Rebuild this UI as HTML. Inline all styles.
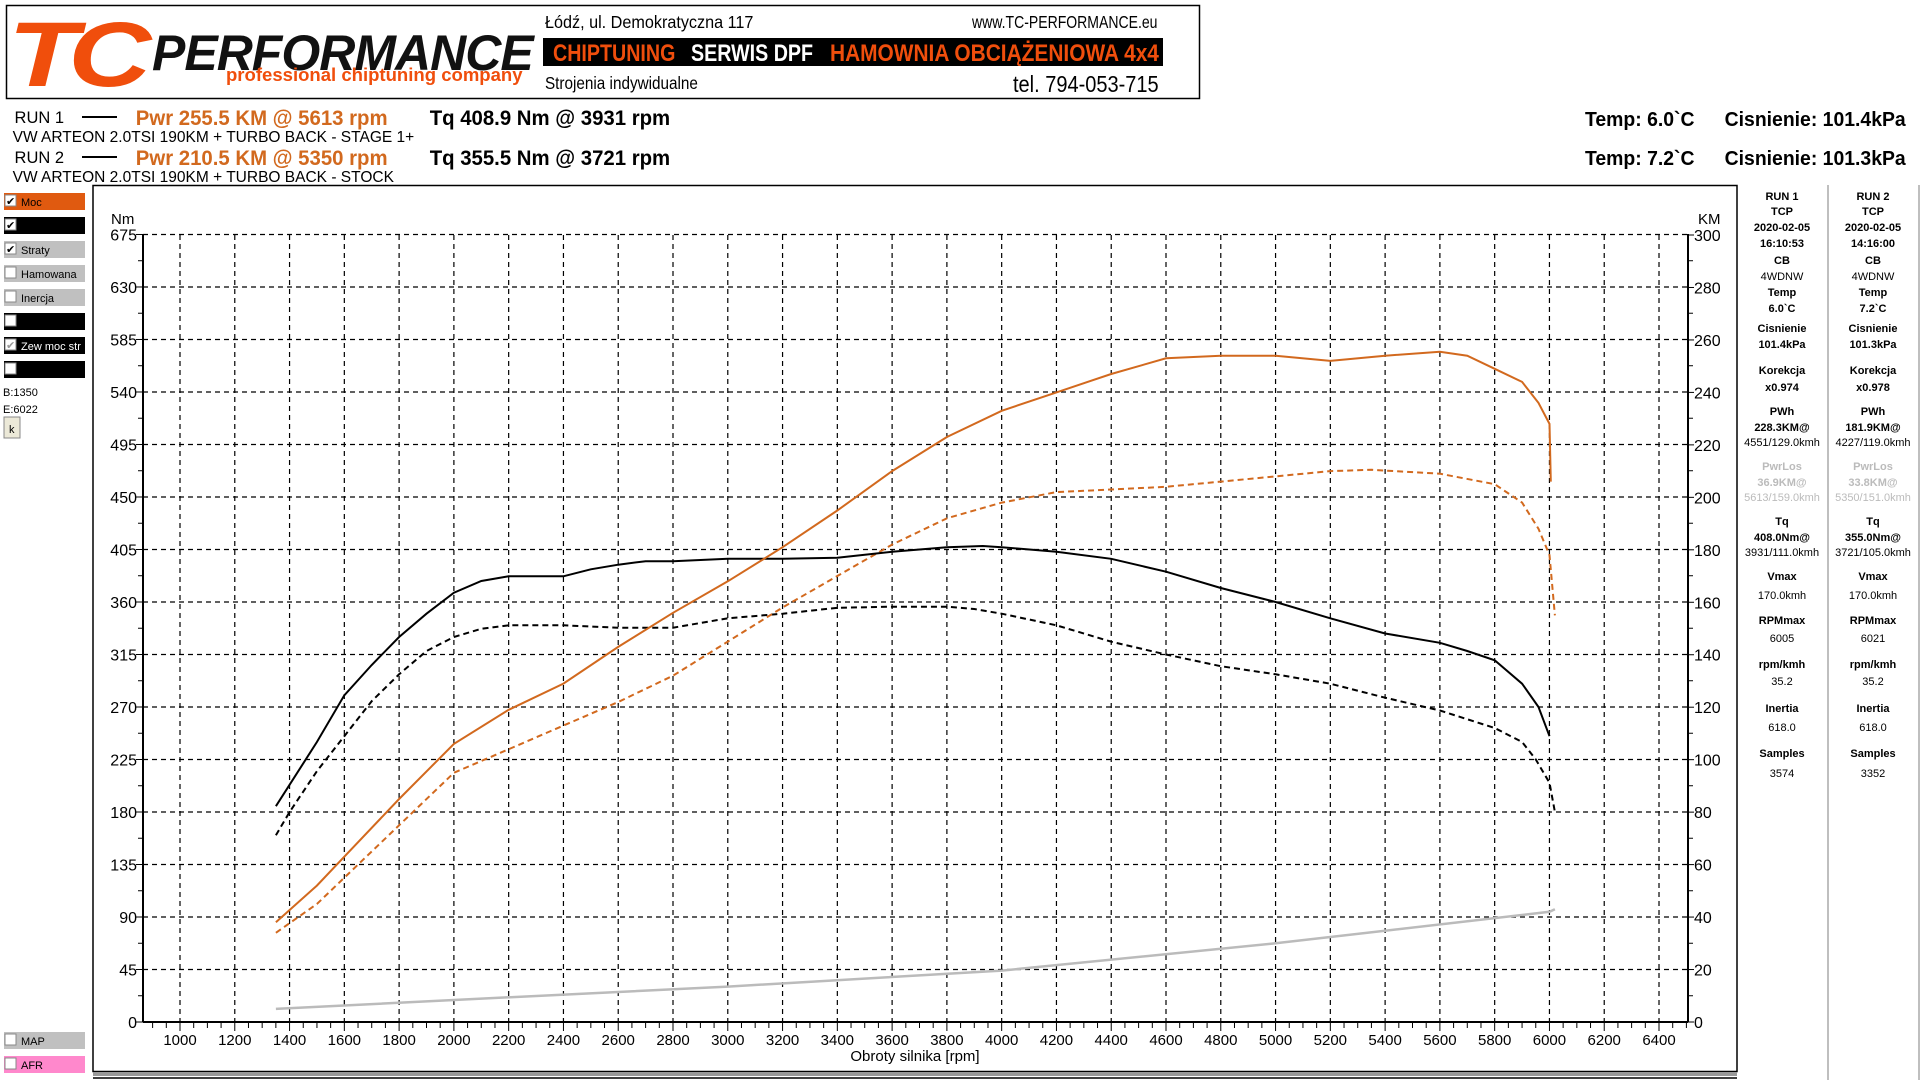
<!DOCTYPE html>
<html><head><meta charset="utf-8"><style>
html,body{margin:0;padding:0;background:#fff;width:1920px;height:1080px;overflow:hidden}
svg{display:block}
text{font-family:"Liberation Sans",sans-serif}
</style></head><body>
<svg id="s" width="1920" height="1080" xmlns="http://www.w3.org/2000/svg">
<!-- header box -->
<rect x="6.5" y="5.5" width="1193" height="93" fill="#fff" stroke="#000" stroke-width="1.5"/>
<text x="8" y="86" font-size="92" font-weight="bold" font-style="italic" fill="#f04e0c" transform="translate(8,0) scale(1.25,1) translate(-8,0)" letter-spacing="-8">TC</text>
<text x="152" y="70" font-size="50" font-weight="bold" font-style="italic" fill="#111" transform="translate(152,0) scale(1.0,1) translate(-152,0)" letter-spacing="-1">PERFORMANCE</text>
<text x="226" y="81" font-size="18" font-weight="bold" fill="#f04e0c" transform="translate(226,0) scale(1.03,1) translate(-226,0)">professional chiptuning company</text>
<text x="545" y="28" font-size="18" fill="#000" transform="translate(545,0) scale(0.9,1) translate(-545,0)">Łódź, ul. Demokratyczna 117</text>
<text x="972" y="28" font-size="18" fill="#000" transform="translate(972,0) scale(0.78,1) translate(-972,0)">www.TC-PERFORMANCE.eu</text>
<rect x="543" y="38" width="620" height="28" fill="#000"/>
<text x="553" y="61" font-size="24" font-weight="bold" fill="#f04e0c" transform="translate(553,0) scale(0.82,1) translate(-553,0)">CHIPTUNING</text>
<text x="691" y="61" font-size="24" font-weight="bold" fill="#fff" transform="translate(691,0) scale(0.82,1) translate(-691,0)">SERWIS DPF</text>
<text x="830" y="61" font-size="24" font-weight="bold" fill="#f04e0c" transform="translate(830,0) scale(0.87,1) translate(-830,0)">HAMOWNIA OBCIĄŻENIOWA 4x4</text>
<text x="545" y="89" font-size="18" fill="#000" transform="translate(545,0) scale(0.85,1) translate(-545,0)">Strojenia indywidualne</text>
<text x="1013" y="92" font-size="23" fill="#000" transform="translate(1013,0) scale(0.87,1) translate(-1013,0)">tel. 794-053-715</text>

<!-- run info -->
<g transform="scale(0.97,1)">
<text x="15" y="123" font-size="17" fill="#000">RUN 1</text>
<text x="15" y="163" font-size="17" fill="#000">RUN 2</text>
<text x="13" y="142" font-size="16" fill="#000">VW ARTEON 2.0TSI 190KM + TURBO BACK - STAGE 1+</text>
<text x="13" y="182" font-size="16" fill="#000">VW ARTEON 2.0TSI 190KM + TURBO BACK - STOCK</text>
<text x="140" y="125" font-size="21" font-weight="bold" fill="#d2691e">Pwr  255.5 KM @ 5613 rpm</text>
<text x="140" y="165" font-size="21" font-weight="bold" fill="#d2691e">Pwr  210.5 KM @ 5350 rpm</text>
<text x="443" y="125" font-size="21" font-weight="bold" fill="#000">Tq 408.9 Nm @ 3931 rpm</text>
<text x="443" y="165" font-size="21" font-weight="bold" fill="#000">Tq 355.5 Nm @ 3721 rpm</text>
<text x="1634" y="126" font-size="20" font-weight="bold" fill="#000">Temp: 6.0`C</text>
<text x="1778" y="126" font-size="20" font-weight="bold" fill="#000">Cisnienie: 101.4kPa</text>
<text x="1634" y="165" font-size="20" font-weight="bold" fill="#000">Temp: 7.2`C</text>
<text x="1778" y="165" font-size="20" font-weight="bold" fill="#000">Cisnienie: 101.3kPa</text>
</g>
<line x1="82" y1="117" x2="117" y2="117" stroke="#000" stroke-width="2"/>
<line x1="82" y1="157" x2="117" y2="157" stroke="#000" stroke-width="2"/>

<!-- left sidebar -->
<g id="side" font-size="11"></g>

<!-- plot frame -->
<rect x="93" y="185.5" width="1644" height="886" fill="#fff" stroke="#000" stroke-width="1.5"/>
<rect x="93" y="1072" width="1644" height="4" fill="#999"/>
<line x1="93" y1="1078" x2="1737" y2="1078" stroke="#000" stroke-width="1.5"/>
<line x1="1828" y1="185" x2="1828" y2="1080" stroke="#aaa" stroke-width="1.5"/>
<line x1="1919" y1="185" x2="1919" y2="1080" stroke="#aaa" stroke-width="1.5"/>
<g id="grid"></g>
<g id="curves"></g>
<g id="panel" font-size="11" text-anchor="middle" fill="#000"></g>
</svg>
<script>
const NS="http://www.w3.org/2000/svg",s=document.getElementById('s');
function el(p,t,a,txt){const e=document.createElementNS(NS,t);for(const k in a)e.setAttribute(k,a[k]);if(txt!==undefined)e.textContent=txt;p.appendChild(e);return e;}
const X=r=>180+(r-1000)*0.27389, YN=n=>1022-n*1.1667, YK=k=>1022-k*2.6233;
const g=document.getElementById('grid');
for(let r=1000;r<=6400;r+=200){el(g,'line',{x1:X(r),y1:235,x2:X(r),y2:1022,stroke:'#000','stroke-width':1.2,'stroke-dasharray':'5,4'});
 el(g,'text',{x:X(r),y:1045,'font-size':15,'text-anchor':'middle'},r);}
for(let n=45;n<=675;n+=45){el(g,'line',{x1:143,y1:YN(n),x2:1688,y2:YN(n),stroke:'#000','stroke-width':1.2,'stroke-dasharray':'5,4'});}
for(let n=0;n<=675;n+=45){el(g,'text',{x:137,y:YN(n)+6,'font-size':16,'text-anchor':'end'},n);
 el(g,'line',{x1:136,y1:YN(n),x2:143,y2:YN(n),stroke:'#000'});}
for(let n=22.5;n<675;n+=45){el(g,'line',{x1:138,y1:YN(n),x2:143,y2:YN(n),stroke:'#000'});el(g,'line',{x1:1688,y1:YN(n),x2:1693,y2:YN(n),stroke:'#000'});}
for(let k=0;k<=300;k+=20){el(g,'text',{x:1694,y:YK(k)+6,'font-size':16},k);el(g,'line',{x1:1688,y1:YK(k),x2:1694,y2:YK(k),stroke:'#000'});}
for(let r=900;r<=6500;r+=50){const big=r%200==0;el(g,'line',{x1:X(r),y1:1022,x2:X(r),y2:1022+(big?9:6),stroke:'#000'});}
el(g,'line',{x1:143,y1:234,x2:143,y2:1022,stroke:'#000','stroke-width':2});
el(g,'line',{x1:1688,y1:234,x2:1688,y2:1022,stroke:'#000','stroke-width':2});
el(g,'line',{x1:143,y1:1022,x2:1688,y2:1022,stroke:'#000','stroke-width':2});
el(g,'text',{x:111,y:224,'font-size':15},'Nm');
el(g,'text',{x:1698,y:224,'font-size':15},'KM');
el(g,'text',{x:915,y:1061,'font-size':15,'text-anchor':'middle'},'Obroty silnika [rpm]');
function path(pts,fy){let d='';pts.forEach((p,i)=>{d+=(i?'L':'M')+X(p[0]).toFixed(1)+','+fy(p[1]).toFixed(1);});return d;}
const c=document.getElementById('curves');
const t1=[[1350,185],[1500,240],[1600,280],[1700,306],[1800,330],[1900,350],[2000,368],[2100,378],[2200,382],[2400,382],[2500,388],[2600,392],[2700,395],[2800,395],[3000,397],[3200,397],[3400,398],[3600,403],[3800,407],[3931,408],[4000,407],[4200,403],[4400,397],[4600,386],[4800,372],[5000,360],[5200,346],[5400,333],[5600,325],[5700,318],[5800,310],[5900,290],[5960,270],[6000,245]];
const t2=[[1350,160],[1400,180],[1500,215],[1600,245],[1700,275],[1800,298],[1900,318],[2000,330],[2100,337],[2200,340],[2400,340],[2600,338],[2800,338],[3000,346],[3200,350],[3400,355],[3600,356],[3800,356],[3900,354],[4000,350],[4200,340],[4400,326],[4600,315],[4800,305],[5000,298],[5200,290],[5400,278],[5600,267],[5800,252],[5900,240],[5950,225],[6000,205],[6020,180]];
const p1=[[1350,38],[1500,52],[1600,63],[1800,85],[2000,106],[2200,119],[2400,129],[2600,143],[2800,156],[3000,168],[3200,181],[3400,195],[3600,210],[3800,223],[4000,233],[4200,240],[4400,247],[4600,253],[4800,254],[5000,254],[5200,252],[5400,254],[5600,255.5],[5700,254],[5800,249],[5900,244],[5960,236],[6000,228],[6005,206]];
const p2=[[1350,34],[1500,45],[1600,55],[1800,75],[2000,95],[2200,104],[2400,113],[2600,122],[2800,132],[3000,145],[3200,158],[3400,170],[3600,182],[3800,192],[4000,198],[4200,202],[4400,203],[4600,204],[4800,206],[5000,208],[5200,210],[5350,210.5],[5600,209],[5800,205],[5900,198],[5960,188],[6000,178],[6020,155]];
const lo=[[1350,5],[2000,8.4],[3000,13.5],[4000,19.6],[5000,30],[6000,42],[6020,43]];
el(c,'path',{d:path(lo,YK),fill:'none',stroke:'#bbb','stroke-width':2.5});
el(c,'path',{d:path(t2,YN),fill:'none',stroke:'#000','stroke-width':2,'stroke-dasharray':'6,4'});
el(c,'path',{d:path(p2,YK),fill:'none',stroke:'#d2691e','stroke-width':2,'stroke-dasharray':'6,4'});
el(c,'path',{d:path(t1,YN),fill:'none',stroke:'#000','stroke-width':2});
el(c,'path',{d:path(p1,YK),fill:'none',stroke:'#d2691e','stroke-width':2});
const sd=document.getElementById('side');
const rows=[['Moc','#e05a10','#000',1],['','#000','#fff',1],['Straty','#c0c0c0','#000',1],['Hamowana','#c0c0c0','#000',0],['Inercja','#c0c0c0','#000',0],['','#000','#fff',0],['Zew moc str','#000','#fff',2],['','#000','#fff',0]];
rows.forEach((r,i)=>{const y=193+i*24;el(sd,'rect',{x:4,y:y,width:81,height:17,fill:r[1]});
 el(sd,'rect',{x:5,y:y+2,width:11,height:11,fill:'#fff',stroke:'#888'});
 if(r[3])el(sd,'text',{x:6,y:y+12,'font-size':11,fill:r[3]==2?'#999':'#000'},'✔');
 el(sd,'text',{x:21,y:y+13,fill:r[2]},r[0]);});
el(sd,'text',{x:3,y:396},'B:1350');el(sd,'text',{x:3,y:413},'E:6022');
el(sd,'rect',{x:4,y:417,width:16,height:21,fill:'#ece9d8',stroke:'#888'});el(sd,'text',{x:9,y:433},'k');
[['MAP','#c0c0c0',1032],['AFR','#ff88cc',1056]].forEach(r=>{el(sd,'rect',{x:4,y:r[2],width:81,height:17,fill:r[1]});
 el(sd,'rect',{x:5,y:r[2]+2,width:11,height:11,fill:'#fff',stroke:'#888'});el(sd,'text',{x:21,y:r[2]+13},r[0]);});
const pn=document.getElementById('panel');
const L=[['RUN 1','RUN 2',196,1],['TCP','TCP',211,1],['2020-02-05','2020-02-05',227,1],['16:10:53','14:16:00',243,1],['CB','CB',260,1],['4WDNW','4WDNW',276,0],['Temp','Temp',292,1],['6.0`C','7.2`C',308,1],['Cisnienie','Cisnienie',328,1],['101.4kPa','101.3kPa',344,1],['Korekcja','Korekcja',370,1],['x0.974','x0.978',387,1],['PWh','PWh',411,1],['228.3KM@','181.9KM@',427,1],['4551/129.0kmh','4227/119.0kmh',442,0],['PwrLos','PwrLos',466,2],['36.9KM@','33.8KM@',482,2],['5613/159.0kmh','5350/151.0kmh',497,3],['Tq','Tq',521,1],['408.0Nm@','355.0Nm@',537,1],['3931/111.0kmh','3721/105.0kmh',552,0],['Vmax','Vmax',576,1],['170.0kmh','170.0kmh',595,0],['RPMmax','RPMmax',620,1],['6005','6021',638,0],['rpm/kmh','rpm/kmh',664,1],['35.2','35.2',681,0],['Inertia','Inertia',708,1],['618.0','618.0',727,0],['Samples','Samples',753,1],['3574','3352',773,0]];
L.forEach(l=>{const a={y:l[2]+4};if(l[3]==1||l[3]==2)a['font-weight']='bold';if(l[3]>=2)a.fill='#bbb';
 el(pn,'text',Object.assign({x:1782},a),l[0]);el(pn,'text',Object.assign({x:1873},a),l[1]);});
</script>
</body></html>
